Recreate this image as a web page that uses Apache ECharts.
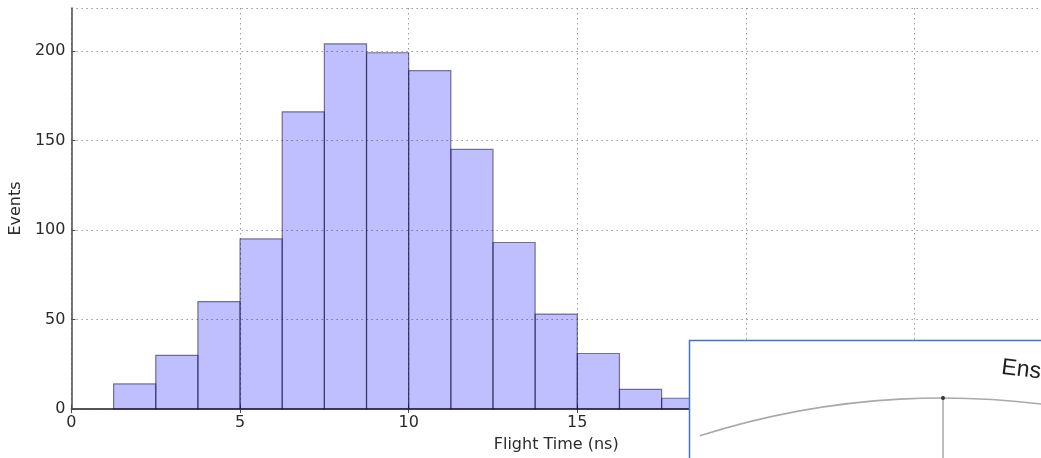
<!DOCTYPE html>
<html>
<head>
<meta charset="utf-8">
<script src="https://cdn.jsdelivr.net/npm/echarts@6/dist/echarts.min.js"></script>
<style>
  html, body { margin: 0; padding: 0; background: #ffffff; }
  #chart { width: 1041px; height: 458px; }
</style>
</head>
<body>
<div id="chart"></div>
<script>
// Histogram bins (ns) and event counts
const binStarts = [1.25, 2.5, 3.75, 5, 6.25, 7.5, 8.75, 10, 11.25, 12.5, 13.75, 15, 16.25, 17.5];
const binEnds   = [2.5, 3.75, 5, 6.25, 7.5, 8.75, 10, 11.25, 12.5, 13.75, 15, 16.25, 17.5, 18.75];
const counts    = [14, 30, 60, 95, 166, 204, 199, 189, 145, 93, 53, 31, 11, 6];

const xTicks = { min: 0, max: 28.75, step: 5 };
const yTicks = { min: 0, max: 224, step: 50 };

const xTitle = 'Flight Time (ns)';
const yTitle = 'Events';
const insetTitle = 'Ens';

const FONT = '"DejaVu Sans", sans-serif';
const TEXT = '#2b2b2b';
const SPINE = '#4a4a4a';

const histData = binStarts.map((s, i) => [s, binEnds[i], counts[i]]);

const chart = echarts.init(document.getElementById('chart'), null, { renderer: 'canvas' });

const gridLine = { show: true, lineStyle: { color: '#9a9a9a', width: 1, type: [1.5, 3.5] } };

// inset panel layered above the plot
const TOP = { zlevel: 5, z: 100 };

const option = {
  backgroundColor: '#ffffff',
  animation: false,
  grid: { left: 69, top: 8, bottom: 45.5, right: -15, containLabel: false },
  xAxis: [{
    type: 'value',
    min: xTicks.min, max: xTicks.max, interval: xTicks.step,
    position: 'bottom',
    name: xTitle, nameLocation: 'middle', nameGap: 28,
    nameTextStyle: { fontFamily: FONT, fontSize: 16, color: TEXT },
    axisLine: { show: true, onZero: false, lineStyle: { color: SPINE, width: 1.5 } },
    axisTick: { show: true, inside: true, length: 4, lineStyle: { color: SPINE } },
    axisLabel: { fontFamily: FONT, fontSize: 16, color: TEXT, margin: 6, showMaxLabel: false },
    splitLine: gridLine
  }, {
    type: 'value',
    min: xTicks.min, max: xTicks.max, interval: xTicks.step,
    position: 'top',
    axisLine: { show: true, lineStyle: { color: SPINE, width: 1.5 } },
    axisTick: { show: true, inside: true, length: 4, lineStyle: { color: SPINE } },
    axisLabel: { show: false },
    splitLine: { show: false }
  }],
  yAxis: {
    type: 'value',
    min: yTicks.min, max: yTicks.max, interval: yTicks.step,
    name: yTitle, nameLocation: 'middle', nameGap: 44, nameRotate: 90,
    nameTextStyle: { fontFamily: FONT, fontSize: 16, color: TEXT },
    axisLine: { show: true, lineStyle: { color: SPINE, width: 1.5 } },
    axisTick: { show: true, inside: true, length: 4, lineStyle: { color: SPINE } },
    axisLabel: { fontFamily: FONT, fontSize: 16, color: TEXT, margin: 6, showMaxLabel: false },
    splitLine: gridLine
  },
  series: [{
    type: 'custom',
    xAxisIndex: 0,
    data: histData,
    encode: { x: [0, 1], y: 2 },
    renderItem: function (params, api) {
      const p0 = api.coord([api.value(0), 0]);
      const p1 = api.coord([api.value(1), api.value(2)]);
      return {
        type: 'rect',
        shape: { x: p0[0], y: p1[1], width: p1[0] - p0[0], height: p0[1] - p1[1] },
        style: { fill: 'rgba(0,0,255,0.25)', stroke: 'rgba(20,20,60,0.55)', lineWidth: 1.2 }
      };
    }
  }],
  graphic: [{
    type: 'rect', ...TOP,
    shape: { x: 689.5, y: 340.5, width: 420, height: 200 },
    style: { fill: '#ffffff', stroke: '#4472c4', lineWidth: 1.5 }
  }, {
    type: 'arc', ...TOP, z: 101,
    shape: { cx: 943, cy: 1198, r: 800, startAngle: -1.8796, endAngle: -1.37, clockwise: true },
    style: { fill: null, stroke: '#a9a9a9', lineWidth: 1.6 }
  }, {
    type: 'line', ...TOP, z: 101,
    shape: { x1: 943, y1: 398, x2: 943, y2: 470 },
    style: { stroke: '#7a7a7a', lineWidth: 1 }
  }, {
    type: 'circle', ...TOP, z: 102,
    shape: { cx: 943, cy: 398, r: 2 },
    style: { fill: '#333333' }
  }, {
    type: 'text', ...TOP, z: 102,
    x: 1003, y: 356,
    rotation: -0.12,
    style: { text: insetTitle, font: '23px "Liberation Sans", Arial, sans-serif', fill: '#1e1e1e', textVerticalAlign: 'top' }
  }]
};

chart.setOption(option);
</script>
</body>
</html>
